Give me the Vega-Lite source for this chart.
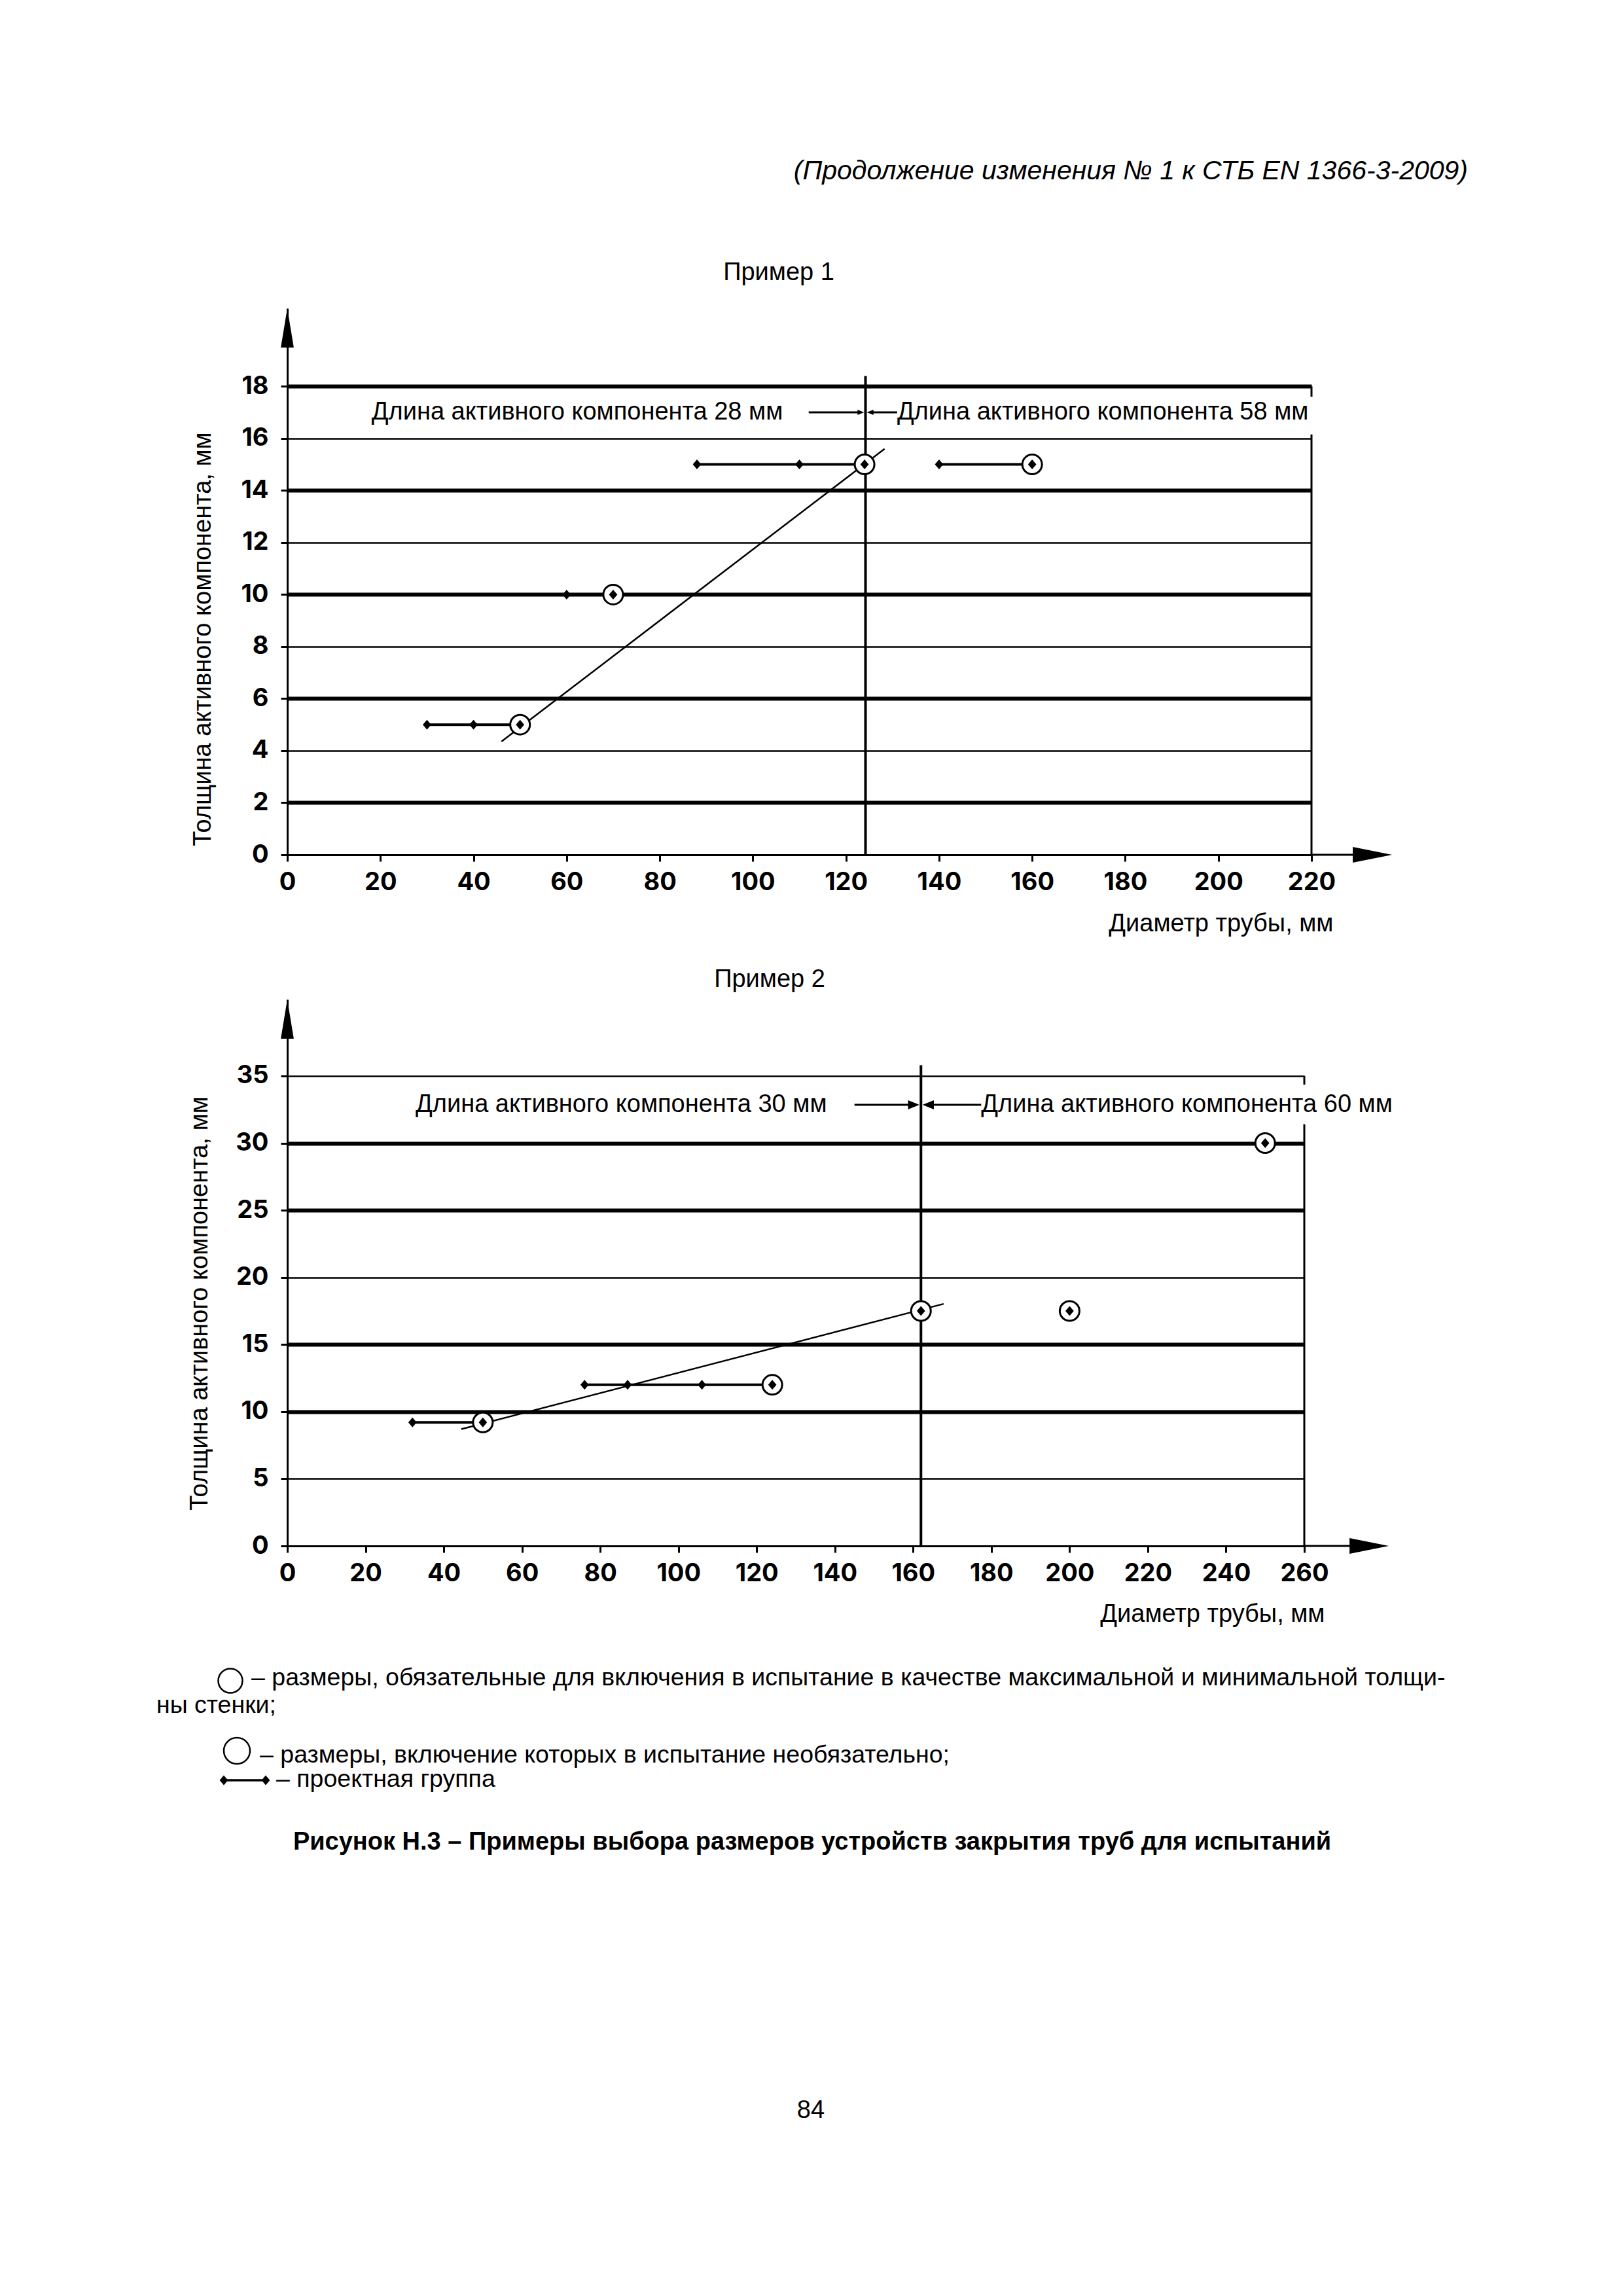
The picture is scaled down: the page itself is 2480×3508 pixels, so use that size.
{
  "$schema": "https://vega.github.io/schema/vega-lite/v6.json",
  "background": "white",
  "padding": {"left": 239, "top": 241, "right": 20, "bottom": 20},
  "spacing": 221,
  "bounds": "flush",
  "config": {
    "view": {"stroke": null},
    "font": "Liberation Sans",
    "axis": {
      "domainColor": "black", "domainWidth": 3,
      "tickColor": "black", "tickWidth": 3, "tickSize": 10,
      "labelFont": "Inter", "labelFontWeight": "bold", "labelFontSize": 38, "labelColor": "black",
      "titleFont": "Liberation Sans", "titleFontSize": 38, "titleFontWeight": "normal", "titleColor": "black",
      "gridColor": "black", "gridOpacity": 1
    }
  },
  "datasets": {
    "ex1_sizes": [
      {"x": 30, "y": 5, "group": "1a", "encircled": false},
      {"x": 40, "y": 5, "group": "1a", "encircled": false},
      {"x": 50, "y": 5, "group": "1a", "encircled": true},
      {"x": 60, "y": 10, "group": "1b", "encircled": false},
      {"x": 70, "y": 10, "group": "1b", "encircled": true},
      {"x": 88, "y": 15, "group": "1c", "encircled": false},
      {"x": 110, "y": 15, "group": "1c", "encircled": false},
      {"x": 124, "y": 15, "group": "1c", "encircled": true},
      {"x": 140, "y": 15, "group": "1d", "encircled": false},
      {"x": 160, "y": 15, "group": "1d", "encircled": true}
    ],
    "ex1_trend": [{"x": 46, "y": 4.35}, {"x": 128.3, "y": 15.6}],
    "ex1_divider": [{"x": 124.2, "y": 0, "y2": 18.4}],
    "ex1_border": [{"x": 220, "y": 0, "y2": 16.15}, {"x": 220, "y": 17.6, "y2": 18}],
    "ex1_notes": [
      {"x": 18.1, "y": 17, "label": "Длина активного компонента 28 мм"},
      {"x": 131, "y": 17, "label": "Длина активного компонента 58 мм"}
    ],
    "ex1_leaders": [{"x": 112, "x2": 123, "y": 17}, {"x": 125.4, "x2": 131, "y": 17}],
    "ex1_heads": [{"x": 123.9, "y": 17, "dir": "right"}, {"x": 124.5, "y": 17, "dir": "left"}],
    "ex1_axis_ext": [{"x": 220, "x2": 236, "y": 0}],
    "ex1_axis_heads": [{"x": 0, "y": 21, "dir": "up"}, {"x": 237.3, "y": 0, "dir": "right"}],
    "ex2_sizes": [
      {"x": 32, "y": 9.2, "group": "2a", "encircled": false},
      {"x": 50, "y": 9.2, "group": "2a", "encircled": true},
      {"x": 76, "y": 12, "group": "2b", "encircled": false},
      {"x": 87, "y": 12, "group": "2b", "encircled": false},
      {"x": 106, "y": 12, "group": "2b", "encircled": false},
      {"x": 124, "y": 12, "group": "2b", "encircled": true},
      {"x": 162, "y": 17.5, "group": "2c", "encircled": true},
      {"x": 200, "y": 17.5, "group": "2d", "encircled": true},
      {"x": 250, "y": 30, "group": "2e", "encircled": true}
    ],
    "ex2_trend": [{"x": 44.5, "y": 8.7}, {"x": 167.8, "y": 18.03}],
    "ex2_divider": [{"x": 162, "y": 0, "y2": 35.8}],
    "ex2_border": [{"x": 260, "y": 0, "y2": 31.4}, {"x": 260, "y": 34.35, "y2": 35}],
    "ex2_notes": [
      {"x": 32.8, "y": 32.85, "label": "Длина активного компонента 30 мм"},
      {"x": 177.4, "y": 32.85, "label": "Длина активного компонента 60 мм"}
    ],
    "ex2_leaders": [{"x": 145, "x2": 160.5, "y": 32.85}, {"x": 163.5, "x2": 177.4, "y": 32.85}],
    "ex2_heads": [{"x": 161.6, "y": 32.85, "dir": "right"}, {"x": 162.4, "y": 32.85, "dir": "left"}],
    "ex2_axis_ext": [{"x": 260, "x2": 280, "y": 0}],
    "ex2_axis_heads": [{"x": 0, "y": 40.7, "dir": "up"}, {"x": 281.6, "y": 0, "dir": "right"}]
  },
  "vconcat": [
    {
      "width": 1565,
      "height": 835,
      "encoding": {
        "x": {"field": "x", "type": "quantitative",
          "scale": {"domain": [0, 220], "nice": false, "zero": false},
          "axis": {"values": [0, 20, 40, 60, 80, 100, 120, 140, 160, 180, 200, 220],
            "title": "Диаметр трубы, мм", "titleX": 1598, "titleY": 116, "titleAlign": "right", "titleBaseline": "alphabetic",
            "labelPadding": 13, "labelFlush": false, "labelOverlap": false, "grid": false}},
        "y": {"field": "y", "type": "quantitative",
          "scale": {"domain": [0, 21], "nice": false, "zero": false},
          "axis": {"values": [0, 2, 4, 6, 8, 10, 12, 14, 16, 18],
            "title": "Толщина активного компонента, мм", "titleX": -118, "titleY": 505, "titleAngle": 270, "titleAlign": "center", "titleBaseline": "alphabetic",
            "labelPadding": 19, "labelFlush": false, "labelOverlap": false, "grid": true,
            "gridWidth": {"condition": {"test": "datum.value % 4 == 2", "value": 6}, "value": 2.5}}}
      },
      "layer": [
        {"data": {"name": "ex1_divider"}, "mark": {"type": "rule", "color": "black", "strokeWidth": 4}, "encoding": {"y2": {"field": "y2"}}},
        {"data": {"name": "ex1_border"}, "mark": {"type": "rule", "color": "black", "strokeWidth": 3}, "encoding": {"y2": {"field": "y2"}}},
        {"data": {"name": "ex1_axis_ext"}, "mark": {"type": "rule", "color": "black", "strokeWidth": 3}, "encoding": {"x2": {"field": "x2"}}},
        {"data": {"name": "ex1_trend"}, "mark": {"type": "line", "color": "black", "strokeWidth": 2.5}},
        {"data": {"name": "ex1_sizes"}, "mark": {"type": "line", "color": "black", "strokeWidth": 4}, "encoding": {"detail": {"field": "group"}}},
        {"data": {"name": "ex1_sizes"}, "transform": [{"filter": "datum.encircled"}],
          "mark": {"type": "point", "shape": "circle", "size": 900, "filled": true, "fill": "white", "stroke": "black", "strokeWidth": 3, "opacity": 1}},
        {"data": {"name": "ex1_sizes"}, "mark": {"type": "point", "shape": "M0,-1L0.85,0L0,1L-0.85,0Z", "size": 225, "filled": true, "color": "black", "opacity": 1}},
        {"data": {"name": "ex1_notes"}, "mark": {"type": "text", "align": "left", "baseline": "middle", "font": "Liberation Sans", "fontSize": 38, "color": "black"}, "encoding": {"text": {"field": "label"}}},
        {"data": {"name": "ex1_leaders"}, "mark": {"type": "rule", "color": "black", "strokeWidth": 3}, "encoding": {"x2": {"field": "x2"}}},
        {"data": {"name": "ex1_heads"}, "mark": {"type": "point", "size": 100, "filled": true, "color": "black", "opacity": 1},
          "encoding": {"shape": {"field": "dir", "type": "nominal", "legend": null,
            "scale": {"domain": ["right", "left"], "range": ["M0,0L-2,-0.8L-2,0.8Z", "M0,0L2,-0.8L2,0.8Z"]}}}},
        {"data": {"name": "ex1_axis_heads"}, "transform": [{"filter": "datum.dir == 'up'"}],
          "mark": {"type": "point", "shape": "M0,0L0.33,2L-0.33,2Z", "size": 3600, "filled": true, "color": "black", "opacity": 1}},
        {"data": {"name": "ex1_axis_heads"}, "transform": [{"filter": "datum.dir == 'right'"}],
          "mark": {"type": "point", "shape": "M0,0L-2,-0.4L-2,0.4Z", "size": 3600, "filled": true, "color": "black", "opacity": 1}},
        {"data": {"values": [{"label": "(Продолжение изменения № 1 к СТБ EN 1366-3-2009)"}]},
          "mark": {"type": "text", "align": "right", "baseline": "alphabetic", "font": "Liberation Sans", "fontStyle": "italic", "fontSize": 41, "color": "black"},
          "encoding": {"x": {"value": 1804}, "y": {"value": -197}, "text": {"field": "label"}}},
        {"data": {"values": [{"label": "Пример 1"}]},
          "mark": {"type": "text", "align": "center", "baseline": "alphabetic", "font": "Liberation Sans", "fontSize": 38, "color": "black"},
          "encoding": {"x": {"value": 751}, "y": {"value": -43}, "text": {"field": "label"}}}
      ]
    },
    {
      "width": 1554,
      "height": 835,
      "encoding": {
        "x": {"field": "x", "type": "quantitative",
          "scale": {"domain": [0, 260], "nice": false, "zero": false},
          "axis": {"values": [0, 20, 40, 60, 80, 100, 120, 140, 160, 180, 200, 220, 240, 260],
            "title": "Диаметр трубы, мм", "titleX": 1585, "titleY": 115, "titleAlign": "right", "titleBaseline": "alphabetic",
            "labelPadding": 13, "labelFlush": false, "labelOverlap": false, "grid": false}},
        "y": {"field": "y", "type": "quantitative",
          "scale": {"domain": [0, 40.7], "nice": false, "zero": false},
          "axis": {"values": [0, 5, 10, 15, 20, 25, 30, 35],
            "title": "Толщина активного компонента, мм", "titleX": -123, "titleY": 464, "titleAngle": 270, "titleAlign": "center", "titleBaseline": "alphabetic",
            "labelPadding": 19, "labelFlush": false, "labelOverlap": false, "grid": true,
            "gridWidth": {"condition": {"test": "datum.value == 10 || datum.value == 15 || datum.value == 25 || datum.value == 30", "value": 6}, "value": 2.5}}}
      },
      "layer": [
        {"data": {"name": "ex2_divider"}, "mark": {"type": "rule", "color": "black", "strokeWidth": 4}, "encoding": {"y2": {"field": "y2"}}},
        {"data": {"name": "ex2_border"}, "mark": {"type": "rule", "color": "black", "strokeWidth": 3}, "encoding": {"y2": {"field": "y2"}}},
        {"data": {"name": "ex2_axis_ext"}, "mark": {"type": "rule", "color": "black", "strokeWidth": 3}, "encoding": {"x2": {"field": "x2"}}},
        {"data": {"name": "ex2_trend"}, "mark": {"type": "line", "color": "black", "strokeWidth": 2.5}},
        {"data": {"name": "ex2_sizes"}, "mark": {"type": "line", "color": "black", "strokeWidth": 4}, "encoding": {"detail": {"field": "group"}}},
        {"data": {"name": "ex2_sizes"}, "transform": [{"filter": "datum.encircled"}],
          "mark": {"type": "point", "shape": "circle", "size": 900, "filled": true, "fill": "white", "stroke": "black", "strokeWidth": 3, "opacity": 1}},
        {"data": {"name": "ex2_sizes"}, "mark": {"type": "point", "shape": "M0,-1L0.85,0L0,1L-0.85,0Z", "size": 225, "filled": true, "color": "black", "opacity": 1}},
        {"data": {"name": "ex2_notes"}, "mark": {"type": "text", "align": "left", "baseline": "middle", "font": "Liberation Sans", "fontSize": 38, "color": "black"}, "encoding": {"text": {"field": "label"}}},
        {"data": {"name": "ex2_leaders"}, "mark": {"type": "rule", "color": "black", "strokeWidth": 3}, "encoding": {"x2": {"field": "x2"}}},
        {"data": {"name": "ex2_heads"}, "mark": {"type": "point", "size": 300, "filled": true, "color": "black", "opacity": 1},
          "encoding": {"shape": {"field": "dir", "type": "nominal", "legend": null,
            "scale": {"domain": ["right", "left"], "range": ["M0,0L-2,-0.7L-2,0.7Z", "M0,0L2,-0.7L2,0.7Z"]}}}},
        {"data": {"name": "ex2_axis_heads"}, "transform": [{"filter": "datum.dir == 'up'"}],
          "mark": {"type": "point", "shape": "M0,0L0.33,2L-0.33,2Z", "size": 3600, "filled": true, "color": "black", "opacity": 1}},
        {"data": {"name": "ex2_axis_heads"}, "transform": [{"filter": "datum.dir == 'right'"}],
          "mark": {"type": "point", "shape": "M0,0L-2,-0.4L-2,0.4Z", "size": 3600, "filled": true, "color": "black", "opacity": 1}},
        {"data": {"values": [{"label": "Пример 2"}]},
          "mark": {"type": "text", "align": "center", "baseline": "alphabetic", "font": "Liberation Sans", "fontSize": 38, "color": "black"},
          "encoding": {"x": {"value": 737}, "y": {"value": -19}, "text": {"field": "label"}}}
      ]
    },
    {
      "width": 1565,
      "height": 660,
      "layer": [
        {"data": {"values": [{"symbol": "required"}]},
          "mark": {"type": "point", "shape": "circle", "size": 1369, "filled": false, "stroke": "black", "strokeWidth": 2.5, "opacity": 1},
          "encoding": {"x": {"value": -87}, "y": {"value": -15}}},
        {"data": {"values": [{"label": "– размеры, обязательные для включения в испытание в качестве максимальной и минимальной толщи-"}]},
          "mark": {"type": "text", "align": "left", "baseline": "alphabetic", "font": "Liberation Sans", "fontSize": 37.5, "color": "black"},
          "encoding": {"x": {"value": -55}, "y": {"value": -8}, "text": {"field": "label"}}},
        {"data": {"values": [{"label": "ны стенки;"}]},
          "mark": {"type": "text", "align": "left", "baseline": "alphabetic", "font": "Liberation Sans", "fontSize": 37.5, "color": "black"},
          "encoding": {"x": {"value": -200}, "y": {"value": 34}, "text": {"field": "label"}}},
        {"data": {"values": [{"symbol": "optional"}]},
          "mark": {"type": "point", "shape": "circle", "size": 1600, "filled": false, "stroke": "black", "strokeWidth": 2.5, "opacity": 1},
          "encoding": {"x": {"value": -77}, "y": {"value": 92}}},
        {"data": {"values": [{"label": "– размеры, включение которых в испытание необязательно;"}]},
          "mark": {"type": "text", "align": "left", "baseline": "alphabetic", "font": "Liberation Sans", "fontSize": 37.5, "color": "black"},
          "encoding": {"x": {"value": -42}, "y": {"value": 110}, "text": {"field": "label"}}},
        {"data": {"values": [{"symbol": "group"}]},
          "mark": {"type": "rule", "color": "black", "strokeWidth": 3.5},
          "encoding": {"x": {"value": -97}, "x2": {"value": -33}, "y": {"value": 137}, "y2": {"value": 137}}},
        {"data": {"values": [{"symbol": "group"}]},
          "mark": {"type": "point", "shape": "M0,-1L0.85,0L0,1L-0.85,0Z", "size": 225, "filled": true, "color": "black", "opacity": 1},
          "encoding": {"x": {"value": -97}, "y": {"value": 137}}},
        {"data": {"values": [{"symbol": "group"}]},
          "mark": {"type": "point", "shape": "M0,-1L0.85,0L0,1L-0.85,0Z", "size": 225, "filled": true, "color": "black", "opacity": 1},
          "encoding": {"x": {"value": -33}, "y": {"value": 137}}},
        {"data": {"values": [{"label": "– проектная группа"}]},
          "mark": {"type": "text", "align": "left", "baseline": "alphabetic", "font": "Liberation Sans", "fontSize": 37.5, "color": "black"},
          "encoding": {"x": {"value": -17}, "y": {"value": 147}, "text": {"field": "label"}}},
        {"data": {"values": [{"label": "Рисунок Н.3 – Примеры выбора размеров устройств закрытия труб для испытаний"}]},
          "mark": {"type": "text", "align": "center", "baseline": "alphabetic", "font": "Liberation Sans", "fontWeight": "bold", "fontSize": 38, "color": "black"},
          "encoding": {"x": {"value": 802}, "y": {"value": 243}, "text": {"field": "label"}}},
        {"data": {"values": [{"label": "84"}]},
          "mark": {"type": "text", "align": "center", "baseline": "alphabetic", "font": "Liberation Sans", "fontSize": 38, "color": "black"},
          "encoding": {"x": {"value": 800}, "y": {"value": 653}, "text": {"field": "label"}}}
      ]
    }
  ]
}
